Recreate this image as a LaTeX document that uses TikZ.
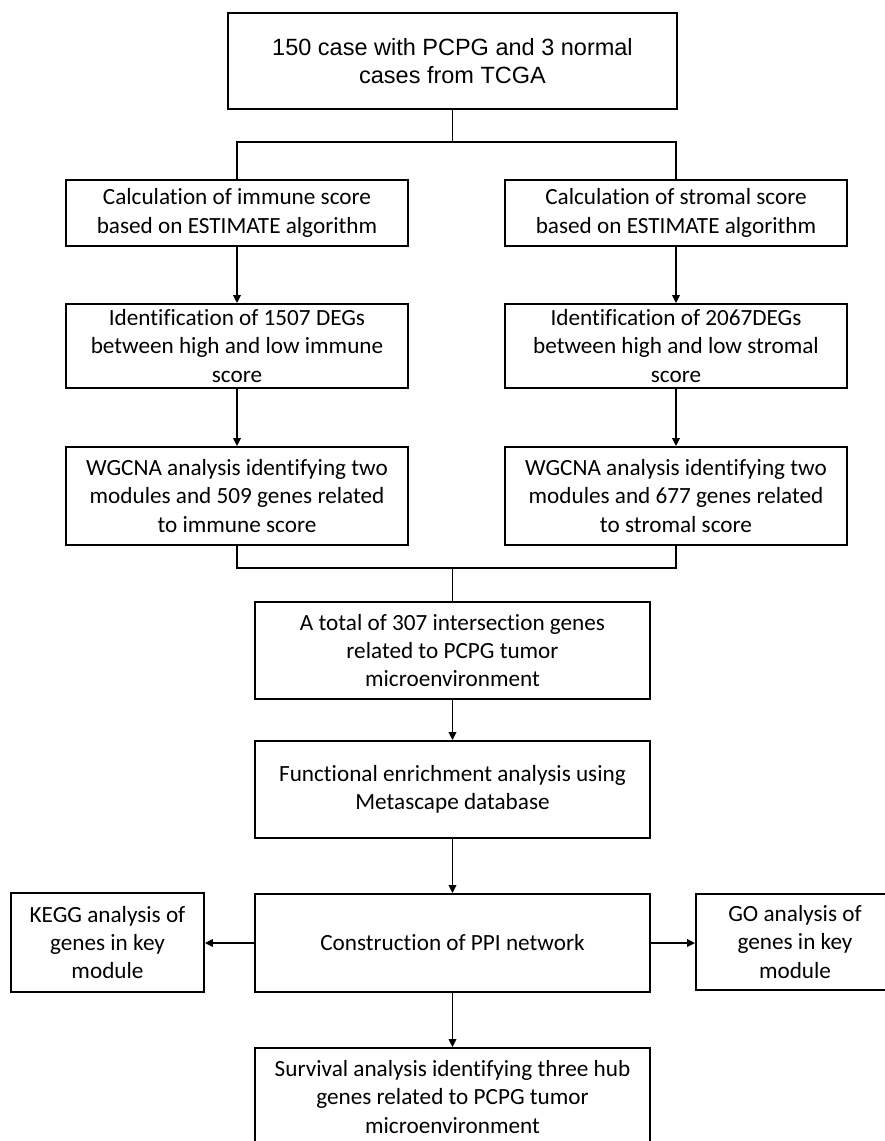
\documentclass[tikz,border=0pt]{standalone}
\usepackage{fontspec}
\setmainfont{Carlito}[Ligatures=CommonOff]
\newfontfamily\arialf{Liberation Sans}
\usetikzlibrary{arrows.meta}
\begin{document}
\begin{tikzpicture}[x=1pt,y=-1pt,
  boxnode/.style={draw=black,line width=1.8pt,rectangle,inner sep=0pt,align=center,
     font=\fontsize{23.2}{28.2}\selectfont},
  sidebox/.style={boxnode,minimum width=342pt},
  midbox/.style={boxnode,minimum width=395pt},
  conn/.style={line width=1.8pt},
  arr/.style={conn,-{Triangle[length=8pt,width=7.5pt]}}]
\useasboundingbox[fill=white] (0,0) rectangle (884,1141);
% top
\node[boxnode,minimum width=449pt,minimum height=96pt,font=\arialf\fontsize{23.5}{28}\selectfont] (top) at (452.5,61)
  {150 case with PCPG and 3 normal\\cases from TCGA};
% left column
\node[sidebox,minimum height=66pt] (imm1) at (237,213) {Calculation of immune score\\based on ESTIMATE algorithm};
\node[sidebox,minimum height=84pt] (imm2) at (237,346) {Identification of 1507 DEGs\\between high and low immune\\score};
\node[sidebox,minimum height=98pt] (imm3) at (237,496) {WGCNA analysis identifying two\\modules and 509 genes related\\to immune score};
% right column
\node[sidebox,minimum height=66pt] (str1) at (676,213) {Calculation of stromal score\\based on ESTIMATE algorithm};
\node[sidebox,minimum height=84pt] (str2) at (676,346) {Identification of 2067DEGs\\between high and low stromal\\score};
\node[sidebox,minimum height=98pt] (str3) at (676,496) {WGCNA analysis identifying two\\modules and 677 genes related\\to stromal score};
% middle
\node[midbox,minimum height=97pt] (tot) at (452.5,650.5) {A total of 307 intersection genes\\related to PCPG tumor\\microenvironment};
\node[midbox,minimum height=97pt] (func) at (452.5,789.5) {Functional enrichment analysis using\\Metascape database};
\node[midbox,minimum height=98pt] (ppi) at (452.5,943) {Construction of PPI network};
\node[boxnode,minimum width=193pt,minimum height=99pt] (kegg) at (107.5,942.5) {KEGG analysis of\\genes in key\\module};
\node[boxnode,minimum width=198pt,minimum height=96pt] (go) at (795,942) {GO analysis of\\genes in key\\module};
\node[midbox,minimum height=98pt] (surv) at (452.5,1097) {Survival analysis identifying three hub\\genes related to PCPG tumor\\microenvironment};
% connectors
\coordinate (split) at (452.5,142);
\coordinate (merge) at (452.5,568);
\draw[conn] (top.south) -- (split);
\draw[conn] (split) -| (imm1.north);
\draw[conn] (split) -| (str1.north);
\draw[arr] (imm1) -- (imm2);
\draw[arr] (imm2) -- (imm3);
\draw[arr] (str1) -- (str2);
\draw[arr] (str2) -- (str3);
\draw[conn] (imm3.south) |- (merge);
\draw[conn] (str3.south) |- (merge);
\draw[conn] (merge) -- (tot.north);
\draw[arr] (tot) -- (func);
\draw[arr] (func) -- (ppi);
\draw[arr] (ppi.west) -- (kegg.east |- ppi.west);
\draw[arr] (ppi.east) -- (go.west |- ppi.east);
\draw[arr] (ppi) -- (surv);
\end{tikzpicture}
\end{document}
